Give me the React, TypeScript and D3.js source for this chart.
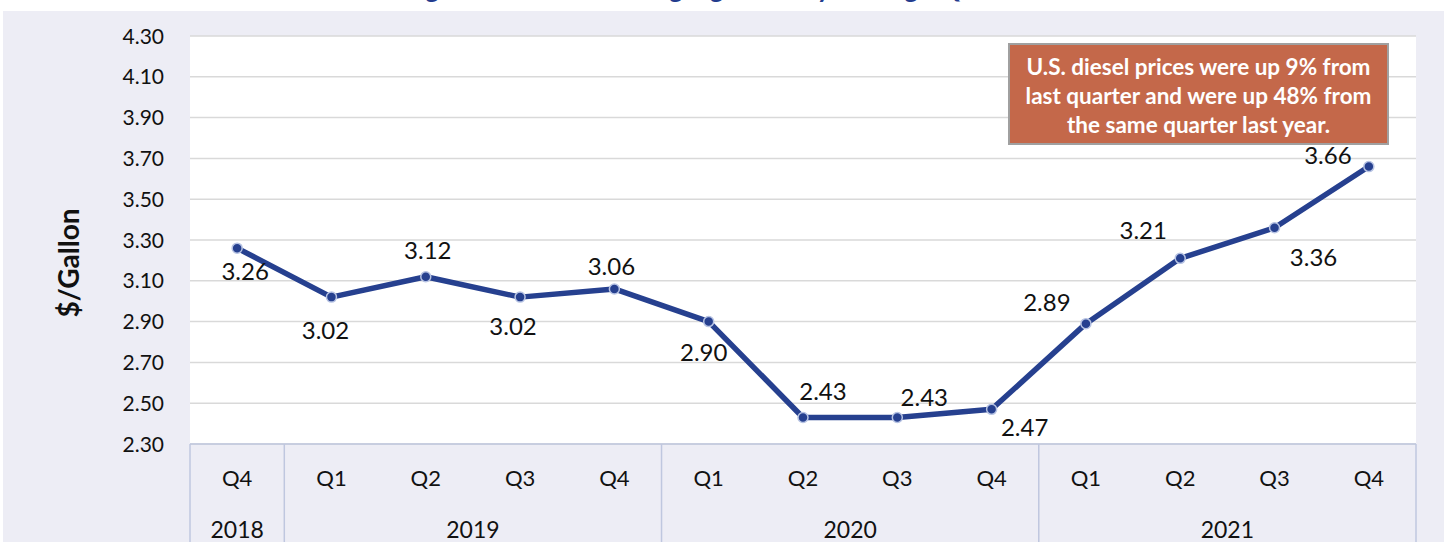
import { useMemo } from 'react'
import * as d3 from 'd3'

// quarterly U.S. diesel price, $/gallon
const quarters = ['Q4', 'Q1', 'Q2', 'Q3', 'Q4', 'Q1', 'Q2', 'Q3', 'Q4', 'Q1', 'Q2', 'Q3', 'Q4']
const years = ['2018', '2019', '2020', '2021']
const quartersPerYear = [1, 4, 4, 4]
const prices = [3.26, 3.02, 3.12, 3.02, 3.06, 2.90, 2.43, 2.43, 2.47, 2.89, 3.21, 3.36, 3.66]
const yTicks = [2.3, 2.5, 2.7, 2.9, 3.1, 3.3, 3.5, 3.7, 3.9, 4.1, 4.3]

const title = 'Average Diesel Prices Rising Significantly Through Q4 2021'
const noteLines = [
  'U.S. diesel prices were up 9% from',
  'last quarter and were up 48% from',
  'the same quarter last year.',
]

// where Excel put each data label, relative to its point
const labelOffsets: [number, number][] = [
  [8, 23], [-6, 33], [2, -26], [-7, 29], [-3, -23], [-5, 31], [20, -26],
  [27, -20], [33, 18], [-39, -21], [-37, -28], [39, 30], [-41, -11],
]

const W = 1447
const H = 542
const plot = { left: 190, right: 1416, top: 36, bottom: 444 }
const font = 'Lato, "Open Sans", sans-serif'
const lineColor = '#26408f'

export default function App() {
  const idx = quarters.map((_, i) => String(i))

  const x = useMemo(
    () => d3.scaleBand<string>().domain(idx).range([plot.left, plot.right]).padding(0),
    []
  )
  const y = useMemo(
    () => d3.scaleLinear().domain([2.3, 4.3]).range([plot.bottom, plot.top]),
    []
  )

  const cx = (i: number) => (x(String(i)) ?? 0) + x.bandwidth() / 2

  const line = d3.line<number>()
    .x((_, i) => cx(i))
    .y(d => y(d))

  // year group boundaries (in band index)
  const bounds = [0, ...d3.cumsum(quartersPerYear)]
  const edge = (k: number) => plot.left + x.step() * k

  return (
    <svg
      width={W}
      height={H}
      style={{ position: 'absolute', left: 0, top: 0, display: 'block' }}
      fontFamily={font}
    >
      <rect x={0} y={0} width={W} height={H} fill="#ffffff" />
      <rect x={3} y={11} width={1441} height={H - 11} fill="#ededf5" />

      <text x={700} y={-2} textAnchor="middle" fontSize={26} fontWeight={700} fill="#233c8e">
        {title}
      </text>

      <rect
        x={plot.left}
        y={plot.top}
        width={plot.right - plot.left}
        height={plot.bottom - plot.top}
        fill="#ffffff"
      />

      {yTicks.map(t => (
        <g key={t}>
          <line x1={plot.left} x2={plot.right} y1={y(t)} y2={y(t)} stroke="#d9d9d9" strokeWidth={1.5} />
          <text x={164} y={y(t)} dy="0.36em" textAnchor="end" fontSize={21} fill="#111">
            {t.toFixed(2)}
          </text>
        </g>
      ))}

      <text
        transform={`translate(79,${(plot.top + plot.bottom) / 2 + 23}) rotate(-90)`}
        textAnchor="middle"
        fontSize={28}
        fontWeight={700}
        fill="#111"
      >
        $/Gallon
      </text>

      {/* category table below the plot */}
      <line x1={plot.left} x2={plot.right} y1={plot.bottom} y2={plot.bottom} stroke="#bfc7df" strokeWidth={1.5} />
      {bounds.map(k => (
        <line key={k} x1={edge(k)} x2={edge(k)} y1={plot.bottom} y2={H} stroke="#bfc7df" strokeWidth={1.5} />
      ))}
      {quarters.map((q, i) => (
        <text key={i} x={cx(i)} y={478} dy="0.36em" textAnchor="middle" fontSize={22} fill="#111">
          {q}
        </text>
      ))}
      {years.map((yr, j) => (
        <text
          key={yr}
          x={(edge(bounds[j]) + edge(bounds[j + 1])) / 2}
          y={530}
          dy="0.36em"
          textAnchor="middle"
          fontSize={23}
          fill="#111"
        >
          {yr}
        </text>
      ))}

      <path d={line(prices) ?? ''} fill="none" stroke={lineColor} strokeWidth={5.5} strokeLinejoin="round" />
      {prices.map((p, i) => (
        <circle key={i} cx={cx(i)} cy={y(p)} r={5} fill={lineColor} stroke="#b7c3e3" strokeWidth={1.5} />
      ))}
      {prices.map((p, i) => (
        <text
          key={i}
          x={cx(i) + labelOffsets[i][0]}
          y={y(p) + labelOffsets[i][1]}
          dy="0.36em"
          textAnchor="middle"
          fontSize={24}
          fill="#111"
        >
          {p.toFixed(2)}
        </text>
      ))}

      <rect x={1009} y={44} width={379} height={100} fill="#c4684a" stroke="#a0a0a0" strokeWidth={2} />
      {noteLines.map((l, i) => (
        <text
          key={i}
          x={1198.5}
          y={67 + i * 29}
          dy="0.36em"
          textAnchor="middle"
          fontSize={22.5}
          fontWeight={700}
          fill="#ffffff"
        >
          {l}
        </text>
      ))}
    </svg>
  )
}
